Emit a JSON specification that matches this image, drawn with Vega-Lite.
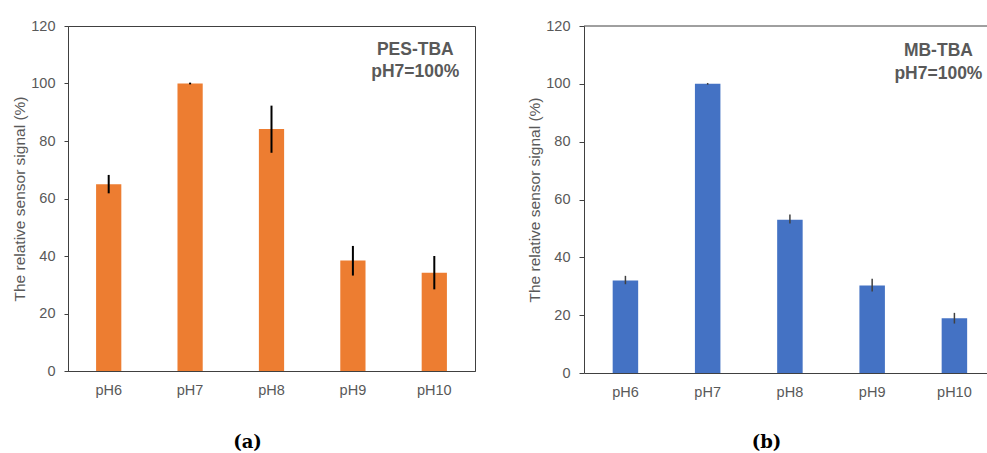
{
  "$schema": "https://vega.github.io/schema/vega-lite/v6.json",
  "padding": {"left": 12, "top": 17, "right": 0, "bottom": 0},
  "background": "white",
  "spacing": 51,
  "config": {
    "font": "Liberation Sans",
    "view": {"stroke": "#404040", "strokeWidth": 1},
    "axis": {
      "labelFont": "Liberation Sans", "labelFontSize": 14.5, "labelColor": "#595959",
      "titleFont": "Liberation Sans", "titleFontSize": 15.5, "titleColor": "#595959", "titleFontWeight": "normal",
      "domainColor": "#404040", "tickColor": "#404040", "grid": false
    }
  },
  "hconcat": [
    {
      "width": 407, "height": 345,
      "data": {"values": [
        {"ph": "pH6", "value": 65, "lo": 61.8, "hi": 68.2},
        {"ph": "pH7", "value": 100, "lo": 99.7, "hi": 100.3},
        {"ph": "pH8", "value": 84.2, "lo": 75.9, "hi": 92.3},
        {"ph": "pH9", "value": 38.4, "lo": 33.2, "hi": 43.5},
        {"ph": "pH10", "value": 34.2, "lo": 28.4, "hi": 40}
      ]},
      "layer": [
        {
          "mark": {"type": "bar", "color": "#ED7D31"},
          "encoding": {
            "x": {"field": "ph", "type": "nominal",
              "scale": {"domain": ["pH6", "pH7", "pH8", "pH9", "pH10"], "paddingInner": 0.69, "paddingOuter": 0.345},
              "axis": {"ticks": false, "labelPadding": 12, "labelAngle": 0, "title": "(a)", "titleFont": "DejaVu Serif", "titleFontWeight": "bold", "titleFontSize": 18, "titleColor": "#000000", "titleX": 179, "titleY": 76, "titleBaseline": "alphabetic", "titleAnchor": "middle", "titleAlign": "center"}},
            "y": {"field": "value", "type": "quantitative",
              "scale": {"domain": [0, 120]},
              "axis": {"values": [0, 20, 40, 60, 80, 100, 120], "tickSize": 4, "labelPadding": 9, "titlePadding": 3, "title": "The relative sensor signal (%)"}}
          }
        },
        {
          "mark": {"type": "rule", "color": "#000000", "strokeWidth": 2},
          "encoding": {
            "x": {"field": "ph", "type": "nominal"},
            "y": {"field": "lo", "type": "quantitative"},
            "y2": {"field": "hi"}
          }
        },
        {
          "data": {"values": [{"label": "PES-TBA\npH7=100%"}]},
          "mark": {"type": "text", "font": "Liberation Sans", "fontWeight": "bold", "fontSize": 17.5, "color": "#595959", "lineHeight": 22, "lineBreak": "\n", "dx": -19, "align": "center", "baseline": "alphabetic"},
          "encoding": {
            "x": {"datum": "pH10"},
            "y": {"datum": 109.8},
            "text": {"field": "label"}
          }
        }
      ]
    },
    {
      "width": 403, "height": 347,
      "view": {"stroke": null},
      "data": {"values": [
        {"ph": "pH6", "value": 32, "lo": 30.7, "hi": 33.6},
        {"ph": "pH7", "value": 100, "lo": 99.7, "hi": 100.3},
        {"ph": "pH8", "value": 53, "lo": 51.7, "hi": 54.8},
        {"ph": "pH9", "value": 30.3, "lo": 28.2, "hi": 32.6},
        {"ph": "pH10", "value": 18.9, "lo": 17.1, "hi": 20.8}
      ]},
      "layer": [
        {
          "mark": {"type": "bar", "color": "#4472C4"},
          "encoding": {
            "x": {"field": "ph", "type": "nominal",
              "scale": {"domain": ["pH6", "pH7", "pH8", "pH9", "pH10"], "paddingInner": 0.69, "paddingOuter": 0.295, "align": 0.591},
              "axis": {"ticks": false, "labelPadding": 12, "labelAngle": 0, "title": "(b)", "titleFont": "DejaVu Serif", "titleFontWeight": "bold", "titleFontSize": 18, "titleColor": "#000000", "titleX": 182, "titleY": 74, "titleBaseline": "alphabetic", "titleAnchor": "middle", "titleAlign": "center"}},
            "y": {"field": "value", "type": "quantitative",
              "scale": {"domain": [0, 120]},
              "axis": {"values": [0, 20, 40, 60, 80, 100, 120], "tickSize": 5, "labelPadding": 9, "titlePadding": 3, "title": "The relative sensor signal (%)"}}
          }
        },
        {
          "mark": {"type": "rule", "color": "#404040", "strokeWidth": 1.5},
          "encoding": {
            "x": {"field": "ph", "type": "nominal"},
            "y": {"field": "lo", "type": "quantitative"},
            "y2": {"field": "hi"}
          }
        },
        {
          "data": {"values": [{"label": "top"}]},
          "mark": {"type": "rule", "color": "#404040", "strokeWidth": 1},
          "encoding": {"y": {"datum": 120}}
        },
        {
          "data": {"values": [{"label": "MB-TBA\npH7=100%"}]},
          "mark": {"type": "text", "font": "Liberation Sans", "fontWeight": "bold", "fontSize": 17.5, "color": "#595959", "lineHeight": 23, "lineBreak": "\n", "dx": -16, "align": "center", "baseline": "alphabetic"},
          "encoding": {
            "x": {"datum": "pH10"},
            "y": {"datum": 109.5},
            "text": {"field": "label"}
          }
        }
      ]
    }
  ]
}
